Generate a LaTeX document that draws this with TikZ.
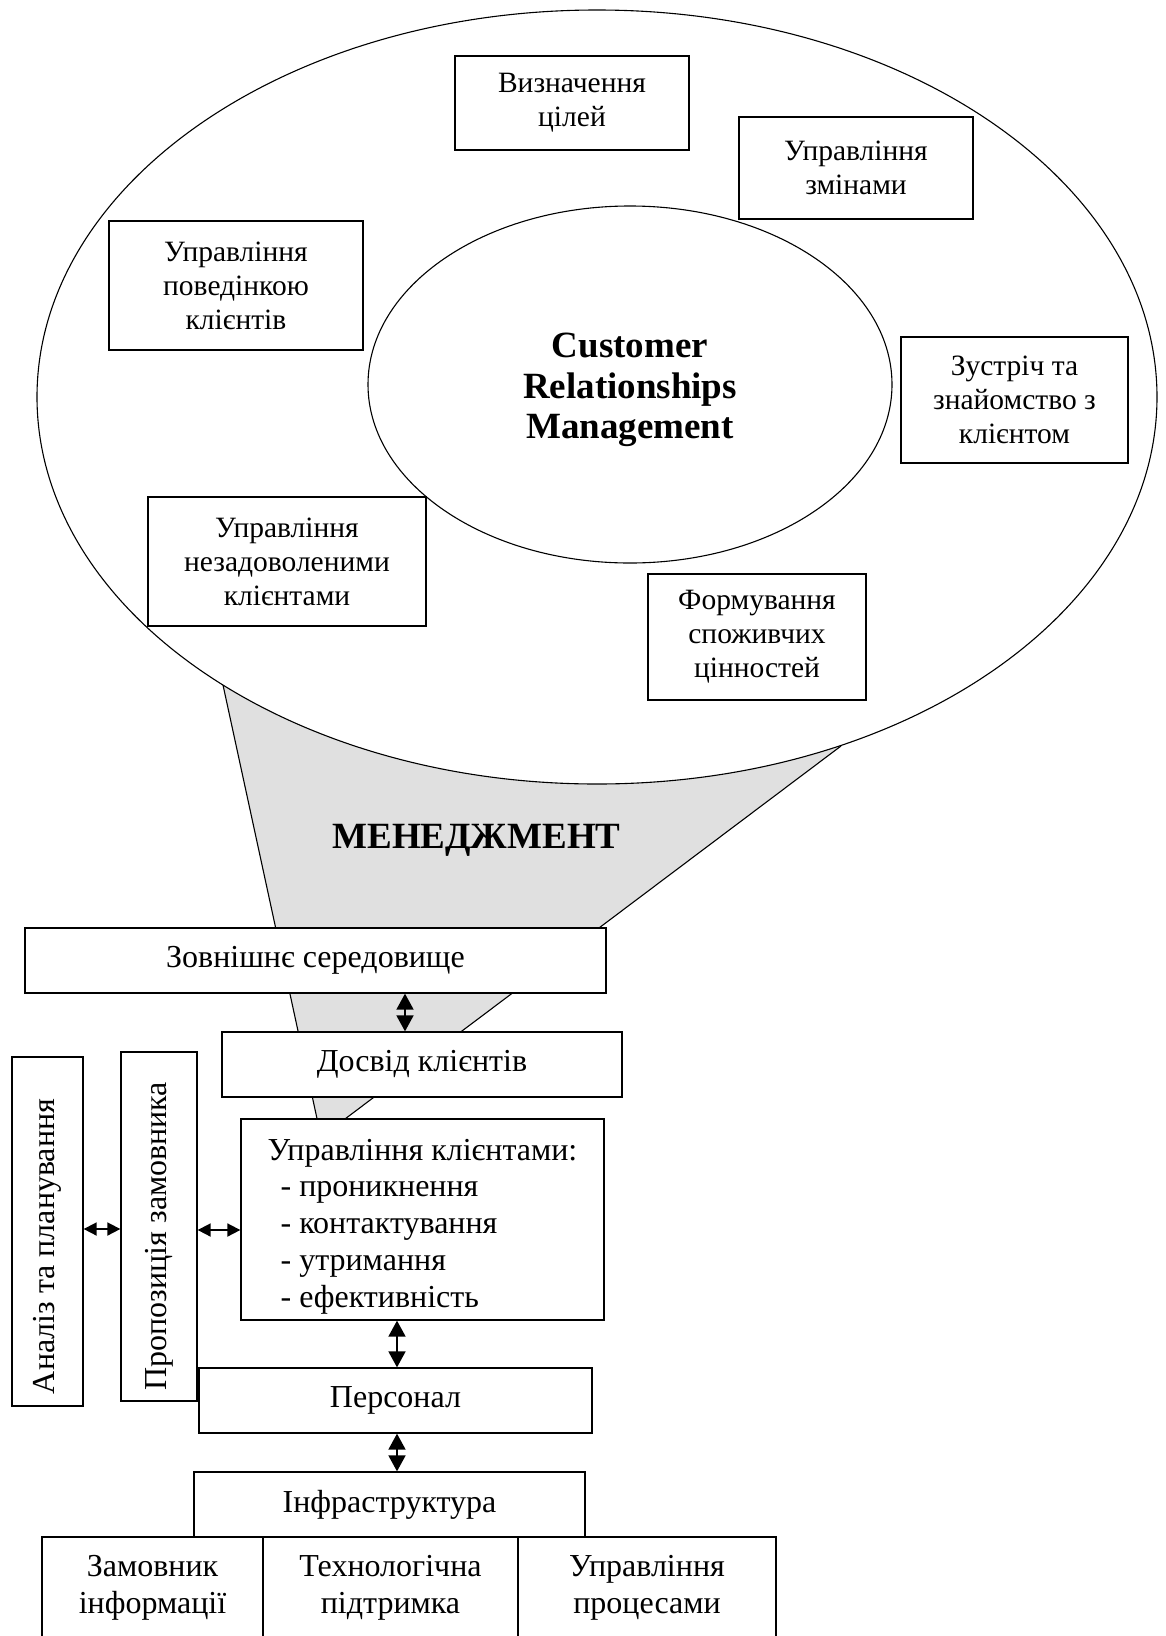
\documentclass[tikz,border=0pt]{standalone}
\usepackage{fontspec}
\setmainfont{Liberation Serif}
\usetikzlibrary{shapes.geometric,arrows.meta}
\begin{document}
\begin{tikzpicture}[x=1pt,y=-1pt,
  box/.style={draw, fill=white, line width=1.3pt, inner sep=0pt, align=center},
  small/.style={font=\fontsize{29.5}{34}\selectfont},
  big/.style={font=\fontsize{32}{36.7}\selectfont},
  ring/.style={draw, ellipse, line width=1.1pt, inner sep=0pt},
  vdbl/.style={>={Triangle[length=16pt,width=17pt]}, <->, line width=1.8pt},
  hdbl/.style={>={Triangle[length=13pt,width=13pt]}, <->, line width=1.8pt},
  funnel/.style={fill=black!12},
  fline/.style={line width=1.1pt}
]
\useasboundingbox (0,0) rectangle (1165,1636);
\clip (0,0) rectangle (1165,1636);

% funnel
\coordinate (L) at (223,685);
\coordinate (A) at (321,1137);
\coordinate (R) at (841,746);
\fill[funnel] (L) -- (A) -- (R) -- cycle;
\draw[fline] (L) -- (A) -- (R);

% ellipses
\node[ring, fill=white, minimum width=1120pt, minimum height=774pt] (outer) at (597,397) {};
\node[ring, minimum width=524pt, minimum height=357pt] (inner) at (630,384.5) {};
\node[font=\bfseries\fontsize{37}{40.5}\selectfont, align=center] (crm) at (630,390) {Customer\\Relationships\\Management};

% boxes in the ring
\node[box, small, minimum width=234pt, minimum height=94pt] (goals) at (572,103) {Визначення\\цілей};
\node[box, small, minimum width=234pt, minimum height=102pt] (change) at (856,168) {Управління\\змінами};
\node[box, small, minimum width=254pt, minimum height=129pt] (behav) at (236,285.5) {Управління\\поведінкою\\клієнтів};
\node[box, small, minimum width=227pt, minimum height=126pt] (meet) at (1014.5,400) {Зустріч та\\знайомство з\\клієнтом};
\node[box, small, minimum width=278pt, minimum height=129pt] (dissat) at (287,561.5) {Управління\\незадоволеними\\клієнтами};
\node[box, small, minimum width=218pt, minimum height=126pt] (value) at (757,637) {Формування\\споживчих\\цінностей};

\node[font=\bfseries\fontsize{37}{40}\selectfont, anchor=base] (mgmt) at (476.5,848) {МЕНЕДЖМЕНТ};

% lower blocks
\node[box, big, minimum width=581pt, minimum height=65pt] (env) at (315.5,960.5) {Зовнішнє середовище};
\node[box, big, minimum width=400pt, minimum height=65pt] (exp) at (422,1064.5) {Досвід клієнтів};
\node[box, big, minimum width=363pt, minimum height=201pt, align=left] (cm) at (422.5,1219.5) {\rule{0pt}{35pt}Управління клієнтами:\\\hspace*{13pt}- проникнення\\\hspace*{13pt}- контактування\\\hspace*{13pt}- утримання\\\hspace*{13pt}- ефективність};
\node[box, big, minimum width=71pt, minimum height=349pt] (an) at (47.5,1231.5) {\rotatebox{90}{Аналіз та планування\hspace*{30pt}}};
\node[box, big, minimum width=76pt, minimum height=349pt] (prop) at (159,1226.5) {\rotatebox{90}{Пропозиція замовника\hspace*{19pt}}};
\node[box, big, minimum width=393pt, minimum height=65pt] (staff) at (395.5,1400.5) {Персонал};
\node[box, big, minimum width=391pt, minimum height=65pt] (infra) at (389.5,1504.5) {Інфраструктура};
\node[box, big, minimum width=221pt, minimum height=102pt] (b1) at (152.5,1588) {Замовник\\інформації};
\node[box, big, minimum width=255pt, minimum height=102pt] (b2) at (390.5,1588) {Технологічна\\підтримка};
\node[box, big, minimum width=258pt, minimum height=102pt] (b3) at (647,1588) {Управління\\процесами};

% connectors
\coordinate (v1) at (405,0);
\coordinate (v2) at (397,0);
\coordinate (h1) at (0,1229);
\coordinate (h2) at (0,1230);
\draw[vdbl] (env.south -| v1) -- (exp.north -| v1);
\draw[vdbl] (cm.south -| v2) -- (staff.north -| v2);
\draw[vdbl] (staff.south -| v2) -- (infra.north -| v2);
\draw[hdbl] (an.east |- h1) -- (prop.west |- h1);
\draw[hdbl] (prop.east |- h2) -- (cm.west |- h2);
\end{tikzpicture}
\end{document}
